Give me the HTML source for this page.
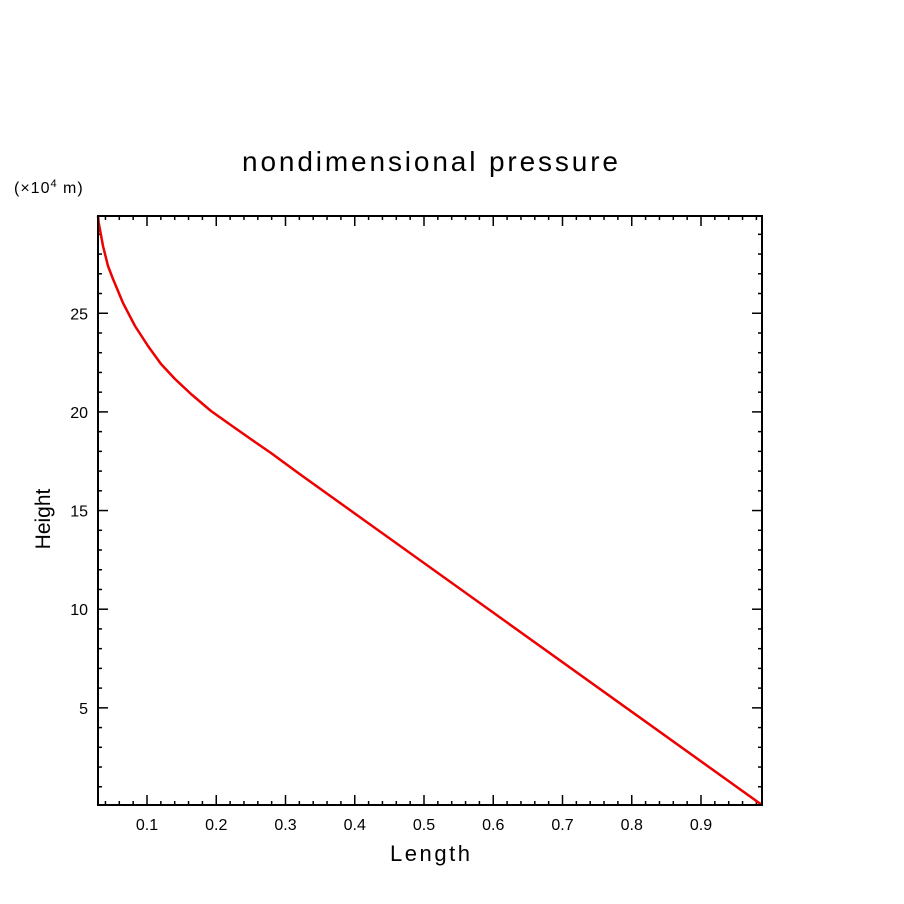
<!DOCTYPE html>
<html><head><style>body{margin:0;background:#fff}svg{display:block}text{font-family:"Liberation Sans","DejaVu Sans",sans-serif;fill:#000}</style></head>
<body>
<svg width="904" height="904" xmlns="http://www.w3.org/2000/svg">
<text x="242" y="171" font-size="28" textLength="376" lengthAdjust="spacing">nondimensional pressure</text>
<text x="14" y="193" font-size="16" letter-spacing="1">(×10<tspan font-size="11" dy="-6">4</tspan><tspan dy="6"> m)</tspan></text>
<text x="390" y="861" font-size="22" textLength="80" lengthAdjust="spacing">Length</text>
<text transform="translate(50,519) rotate(-90)" font-size="21" text-anchor="middle">Height</text>
<g id="ticks" stroke="#000" stroke-width="1.5"></g>
<g font-size="16" id="labels"></g>
<polyline fill="none" stroke="#e00" stroke-width="2.5" stroke-linejoin="round" points="98,216 98.7,222.7 103,246 108,266 113,279 123,303 135,326 148,346 161,364 175,379 191,394 211,411 235,428 255,442 271,453 301,475 762,805"/>
<rect x="98" y="216" width="664" height="589" fill="none" stroke="#000" stroke-width="2"/>
<script>
var g=document.getElementById('ticks'),L=document.getElementById('labels'),ns="http://www.w3.org/2000/svg";
function ln(a,b,c,d){var e=document.createElementNS(ns,'line');e.setAttribute('x1',a);e.setAttribute('y1',b);e.setAttribute('x2',c);e.setAttribute('y2',d);g.appendChild(e);}
function tx(x,y,s,anc){var e=document.createElementNS(ns,'text');e.setAttribute('x',x);e.setAttribute('y',y);e.setAttribute('text-anchor',anc);e.textContent=s;L.appendChild(e);}
for(var i=2;i<=49;i++){var v=i/50,x=147+(v-0.1)*692.5;if(x<99||x>761)continue;var maj=(i%5==0),t=maj?10:4;ln(x,805,x,805-t);ln(x,216,x,216+t);if(maj)tx(x,830,(v).toFixed(1),'middle');}
for(var j=1;j<=29;j++){var y=806.5-j*19.73;if(y<217)continue;var maj=(j%5==0),t=maj?10:4;ln(98,y,98+t,y);ln(762,y,762-t,y);if(maj)tx(88,y+6,String(j),'end');}
</script>
</svg>
</body></html>
